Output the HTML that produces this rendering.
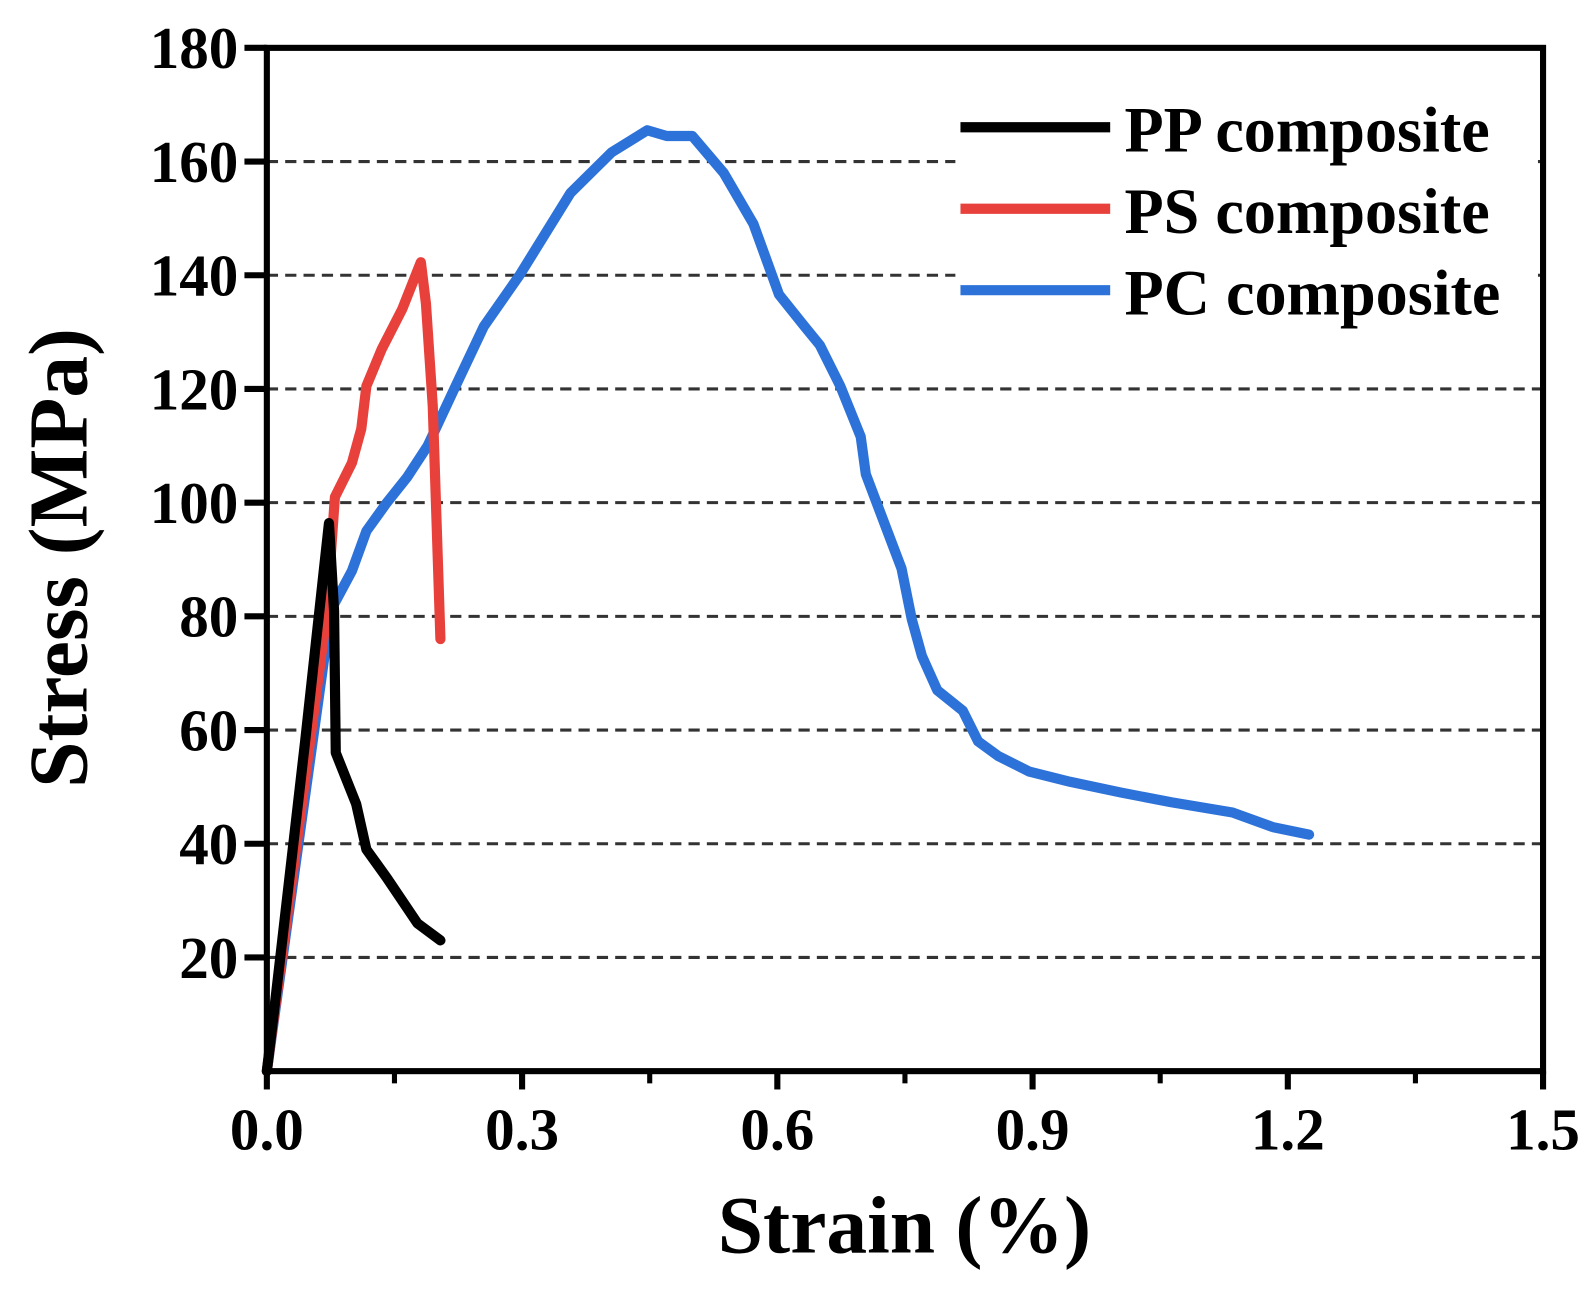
<!DOCTYPE html>
<html><head><meta charset="utf-8"><style>
body{margin:0;background:#fff}
svg text{font-family:"Liberation Serif",serif;font-weight:bold;fill:#000}
</style></head><body>
<svg id="chart" width="1595" height="1287" viewBox="0 0 1566 1264" preserveAspectRatio="none">
<g id="grid"></g>
<g id="series"></g>
<rect x="938" y="96" width="572" height="230" fill="#fff"/>
<g id="axes"></g>
<g>
<line x1="943" y1="125" x2="1090" y2="125" stroke="#000" stroke-width="10"/>
<text x="1104" y="149" font-size="63">PP composite</text>
<line x1="943" y1="205" x2="1090" y2="205" stroke="#e8413c" stroke-width="10"/>
<text x="1104" y="229" font-size="63">PS composite</text>
<line x1="943" y1="285" x2="1090" y2="285" stroke="#2d72d9" stroke-width="10"/>
<text x="1104" y="309" font-size="63">PC composite</text>
</g>
<text x="888" y="1230" font-size="80" text-anchor="middle">Strain (%)</text>
<text transform="translate(85,548) rotate(-90)" font-size="82" text-anchor="middle">Stress (MPa)</text>
</svg>
<script>
const xTicks=[0,0.3,0.6,0.9,1.2,1.5];
const xTickLabels=["0.0","0.3","0.6","0.9","1.2","1.5"];
const yTicks=[20,40,60,80,100,120,140,160,180];
const gridValues=[20,40,60,80,100,120,140,160];
const ppStrain=[0,0.01,0.045,0.073,0.079,0.081,0.105,0.117,0.141,0.177,0.204];
const ppStress=[0,12.5,58,96.4,81,56,47,39,34,26,23];
const psStrain=[0,0.07,0.08,0.1,0.111,0.117,0.135,0.159,0.181,0.187,0.195,0.204];
const psStress=[0,80,101,107,113,120.5,127,134,142.3,135,117,76];
const pcStrain=[0,0.065,0.075,0.1,0.117,0.141,0.165,0.189,0.219,0.255,0.297,0.357,0.405,0.447,0.47,0.5,0.537,0.572,0.602,0.632,0.65,0.674,0.698,0.704,0.728,0.746,0.758,0.77,0.788,0.818,0.836,0.86,0.896,0.944,1.004,1.063,1.135,1.183,1.225];
const pcStress=[0,70,81,88,95,100,104.5,110,119.6,131,140,154.5,161.6,165.5,164.5,164.5,158,149,136.6,131,127.7,120.5,111.6,105,95.5,88.4,79.5,73,67,63.4,58,55.4,52.7,50.9,49,47.3,45.5,42.9,41.6];
const X0=262,X1=1515,Y0=1052,Y1=47;
const sx=v=>X0+(X1-X0)*v/1.5;
const sy=v=>Y0-(Y0-Y1)*v/180;
const NS="http://www.w3.org/2000/svg";
function mk(tag,attrs,parent){const e=document.createElementNS(NS,tag);for(const k in attrs)e.setAttribute(k,attrs[k]);parent.appendChild(e);return e;}
const grid=document.getElementById('grid'),axes=document.getElementById('axes'),ser=document.getElementById('series');
gridValues.forEach(v=>{const l=mk('line',{x1:X0,x2:X1,y1:sy(v),y2:sy(v),stroke:'#333','stroke-width':3,'stroke-dasharray':'11 7'},grid);

});
function addSeries(xs,ys,color,name){const pts=xs.map((x,i)=>sx(x)+','+sy(ys[i])).join(' ');
const p=mk('polyline',{points:pts,fill:'none',stroke:color,'stroke-width':10,'stroke-linejoin':'round','stroke-linecap':'round'},ser);

}
addSeries(pcStrain,pcStress,'#2d72d9','pc-composite-line');
addSeries(psStrain,psStress,'#e8413c','ps-composite-line');
addSeries(ppStrain,ppStress,'#000','pp-composite-line');
const box=mk('rect',{x:X0,y:Y1,width:X1-X0,height:Y0-Y1,fill:'none',stroke:'#000','stroke-width':6},axes);


yTicks.forEach(v=>{const t=mk('line',{x1:X0-22,x2:X0,y1:sy(v),y2:sy(v),stroke:'#000','stroke-width':6},axes);


const tx=mk('text',{x:X0-28,y:sy(v)+20,'font-size':58,'text-anchor':'end'},axes);tx.textContent=v;

});
xTicks.forEach((v,i)=>{const t=mk('line',{x1:sx(v),x2:sx(v),y1:Y0,y2:Y0+18,stroke:'#000','stroke-width':6},axes);


if(i<xTicks.length-1){const m=mk('line',{x1:sx(v+0.15),x2:sx(v+0.15),y1:Y0,y2:Y0+12,stroke:'#000','stroke-width':5},axes);

}
const tx=mk('text',{x:sx(v),y:Y0+77,'font-size':58,'text-anchor':'middle'},axes);tx.textContent=xTickLabels[i];

});
</script>
</body></html>
